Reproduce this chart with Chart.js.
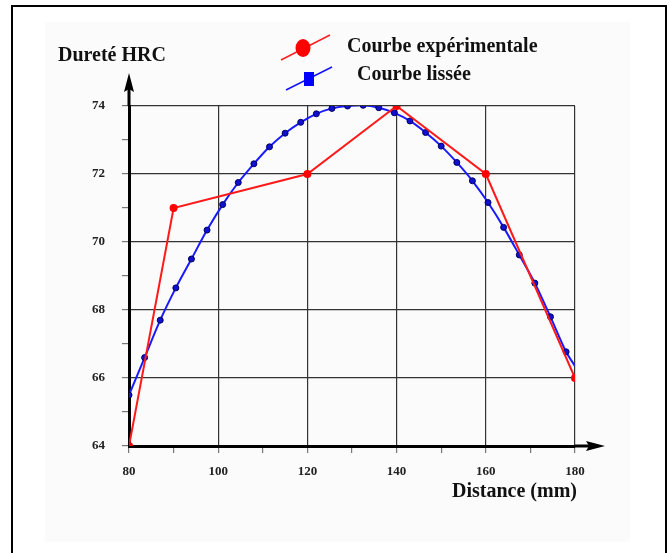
<!DOCTYPE html>
<html>
<head>
<meta charset="utf-8">
<script src="https://cdn.jsdelivr.net/npm/chart.js@4.4.1/dist/chart.umd.min.js"></script>
<style>
    body { margin: 0; background: #fff; }
    #wrap { position: relative; width: 670px; height: 553px; overflow: hidden; }
    #frame { position: absolute; left: 11px; top: 5px; width: 652px; height: 600px; border: 2px solid #000; }
    #paper { position: absolute; left: 45px; top: 22px; width: 585px; height: 520px; background: #fbfbfb; }
    canvas { position: absolute; left: 0; top: 0; }
    .lbl { position: absolute; font-family: "Liberation Serif", "DejaVu Serif", serif; font-weight: bold; color: #111; white-space: nowrap; line-height: 1; }
</style>
</head>
<body>
<div id="wrap">
    <div id="frame"></div>
    <div id="paper"></div>
    <canvas id="hardnessChart" width="670" height="553"></canvas>
    <div class="lbl" id="yTitle" style="left:58px; top:44px; font-size:20px;">Dureté HRC</div>
    <div class="lbl" id="legendExp" style="left:347px; top:35px; font-size:20px;">Courbe expérimentale</div>
    <div class="lbl" id="legendFit" style="left:357px; top:63px; font-size:20px;">Courbe lissée</div>
    <div class="lbl" id="xTitle" style="left:452px; top:480px; font-size:20px;">Distance (mm)</div>
</div>
<script>
// measured hardness (red)
const expDistance = [80, 90, 120, 140, 160, 180];
const expHardness = [64, 71, 72, 74, 72, 66];

// smoothed curve (blue), last point is the line end without marker
const fitDistance = [80, 83.5, 87, 90.5, 94, 97.5, 101, 104.5, 108, 111.5, 115, 118.5, 122, 125.5, 129, 132.5, 136, 139.5, 143, 146.5, 150, 153.5, 157, 160.5, 164, 167.5, 171, 174.5, 178, 180];
const fitHardness = [65.5, 66.6, 67.7, 68.65, 69.5, 70.35, 71.1, 71.75, 72.3, 72.8, 73.2, 73.52, 73.77, 73.93, 74.0, 74.02, 73.95, 73.8, 73.56, 73.22, 72.82, 72.34, 71.8, 71.16, 70.43, 69.62, 68.79, 67.8, 66.77, 66.35];

const xTickLabels = [80, 100, 120, 140, 160, 180];
const yTickLabels = [64, 66, 68, 70, 72, 74];

const toPoints = (xs, ys) => xs.map((x, i) => ({ x: x, y: ys[i] }));

const axisArrows = {
    id: "axisArrows",
    afterDraw(chart) {
        const ctx = chart.ctx;
        const area = chart.chartArea;
        ctx.save();
        ctx.strokeStyle = "#000";
        ctx.fillStyle = "#000";
        ctx.lineWidth = 3;
        ctx.beginPath();
        ctx.moveTo(area.left, area.top);
        ctx.lineTo(area.left, area.top - 20);
        ctx.moveTo(area.right, area.bottom);
        ctx.lineTo(area.right + 18, area.bottom);
        ctx.stroke();
        ctx.beginPath();
        ctx.moveTo(area.left, area.top - 33);
        ctx.lineTo(area.left - 5, area.top - 14);
        ctx.lineTo(area.left, area.top - 17);
        ctx.lineTo(area.left + 5, area.top - 14);
        ctx.closePath();
        ctx.fill();
        ctx.beginPath();
        ctx.moveTo(area.right + 30, area.bottom);
        ctx.lineTo(area.right + 11, area.bottom - 5);
        ctx.lineTo(area.right + 14, area.bottom);
        ctx.lineTo(area.right + 11, area.bottom + 5);
        ctx.closePath();
        ctx.fill();

        // legend symbols
        ctx.lineWidth = 1.5;
        ctx.strokeStyle = "#ff2020";
        ctx.beginPath();
        ctx.moveTo(281, 60);
        ctx.lineTo(330, 35);
        ctx.stroke();
        ctx.fillStyle = "#ff0000";
        ctx.beginPath();
        ctx.ellipse(303, 48, 7.5, 9, 0, 0, Math.PI * 2);
        ctx.fill();
        ctx.strokeStyle = "#1010ff";
        ctx.beginPath();
        ctx.moveTo(286, 90);
        ctx.lineTo(332, 67);
        ctx.stroke();
        ctx.fillStyle = "#0000ff";
        ctx.fillRect(304, 72, 10, 14);
        ctx.restore();
    }
};

const serifTick = { family: "'Liberation Serif', serif", size: 13, weight: "bold" };

new Chart(document.getElementById("hardnessChart").getContext("2d"), {
    type: "scatter",
    data: {
        datasets: [
            {
                label: "Courbe expérimentale",
                data: toPoints(expDistance, expHardness),
                showLine: true,
                borderColor: "#ff1a1a",
                backgroundColor: "#ff0000",
                borderWidth: 2,
                pointRadius: 4,
                pointBorderWidth: 0,
                order: 0
            },
            {
                label: "Courbe lissée",
                data: toPoints(fitDistance, fitHardness),
                showLine: true,
                tension: 0.3,
                borderColor: "#1a1aff",
                backgroundColor: "#1010d0",
                borderWidth: 2,
                pointRadius: (c) => (c.dataIndex === fitDistance.length - 1 ? 0 : 3),
                pointBorderColor: "#000060",
                pointBorderWidth: 1,
                order: 1
            }
        ]
    },
    options: {
        responsive: false,
        animation: false,
        devicePixelRatio: 1,
        layout: { padding: { left: 0, top: 106, right: 95, bottom: 0 } },
        plugins: { legend: { display: false }, tooltip: { enabled: false } },
        scales: {
            x: {
                type: "linear",
                min: 80,
                max: 180,
                afterFit: (s) => { s.height = 107; },
                afterBuildTicks: (s) => { s.ticks = []; for (let v = 80; v <= 180; v += 10) s.ticks.push({ value: v }); },
                ticks: {
                    autoSkip: false,
                    maxRotation: 0,
                    padding: 11,
                    color: "#222",
                    font: serifTick,
                    callback: (v) => (xTickLabels.includes(v) ? String(v) : "")
                },
                grid: {
                    color: (c) => (c.tick && xTickLabels.includes(c.tick.value) ? "#333" : "transparent"),
                    tickColor: "#777",
                    tickLength: 7,
                    lineWidth: 1.2
                },
                border: { display: true, color: "#000", width: 3 }
            },
            y: {
                type: "linear",
                min: 64,
                max: 74,
                afterFit: (s) => { s.width = 129; },
                afterBuildTicks: (s) => { s.ticks = []; for (let v = 64; v <= 74; v += 1) s.ticks.push({ value: v }); },
                ticks: {
                    autoSkip: false,
                    padding: 17,
                    color: "#222",
                    font: serifTick,
                    callback: (v) => (yTickLabels.includes(v) ? String(v) : "")
                },
                grid: {
                    color: (c) => (c.tick && yTickLabels.includes(c.tick.value) ? "#333" : "transparent"),
                    tickColor: "#777",
                    tickLength: 7,
                    lineWidth: 1.2
                },
                border: { display: true, color: "#000", width: 3 }
            }
        }
    },
    plugins: [axisArrows]
});
</script>
</body>
</html>
